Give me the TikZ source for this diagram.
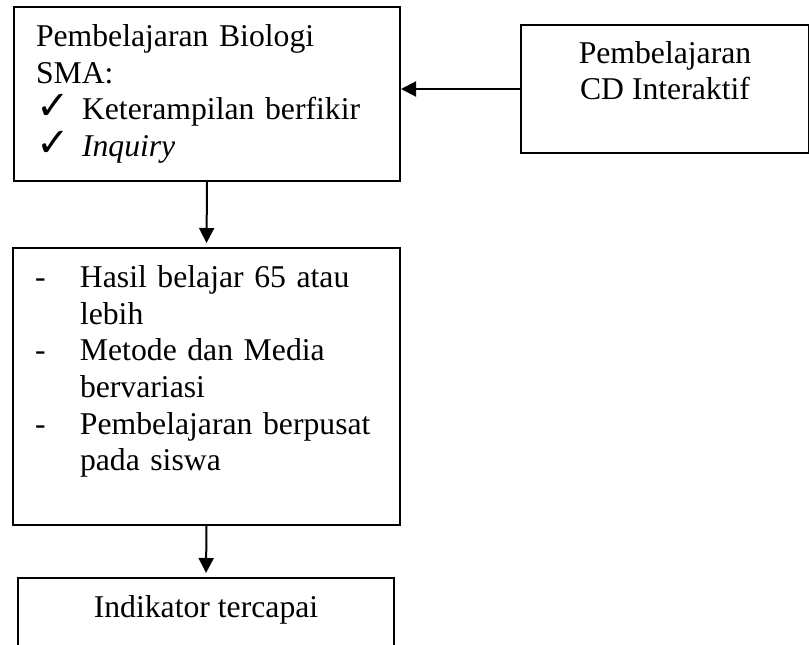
\documentclass[tikz,border=0pt]{standalone}
\usepackage{fontspec}
\setmainfont{Liberation Serif}
\newfontfamily\simbol{DejaVu Sans}
\usetikzlibrary{arrows.meta}

\newcommand{\cek}{\makebox[46pt][l]{\simbol\fontsize{40}{40}\selectfont ✓}}
\newcommand{\garis}{\makebox[45pt][l]{-}}
\newcommand{\inden}{\hspace*{45pt}}

\begin{document}
\begin{tikzpicture}[x = 1pt, y = -1pt,
	box/.style = {draw, line width = 2pt, rectangle, anchor = north west, inner xsep = 22pt, font = \fontsize{31.7}{36.6}\selectfont},
	arrow/.style = {line width = 2pt, -{Triangle[length = 15pt, width = 15pt]}}]
	 \useasboundingbox (0, 0) rectangle (809, 645);
	 \clip (0, 0) rectangle (809, 645);
	 
	 \node[box, align = left, text width = 342pt, minimum height = 174pt] (biologi) at (13, 6) {Pembelajaran Biologi\\ SMA:\\ \cek\mbox{Keterampilan berfikir}\\ \cek\textit{Inquiry}};
	 
	 \node[box, align = center, minimum width = 288pt, minimum height = 128pt] (cd) at (520, 24) {Pembelajaran\\ CD Interaktif\\ \mbox{}};
	 
	 \node[box, align = left, text width = 343pt, minimum height = 277pt] (hasil) at (12, 247) {\garis Hasil belajar 65 atau\\ \inden lebih\\ \garis Metode dan Media\\ \inden bervariasi\\ \garis Pembelajaran berpusat\\ \inden pada siswa\\ \mbox{}};
	 
	 \node[box, align = center, minimum width = 376pt, minimum height = 131pt] (indikator) at (17, 577) {Indikator tercapai\\ \mbox{}\\ \mbox{}};
	 
	 \draw[arrow] (cd.west) -- (cd.west -| biologi.east);
	 \draw[arrow, shorten > = 4pt] (biologi.south) -- (hasil.north);
	 \draw[arrow, shorten > = 4pt] (hasil.south) -- (indikator.north);
	 \end{tikzpicture}
\end{document}
